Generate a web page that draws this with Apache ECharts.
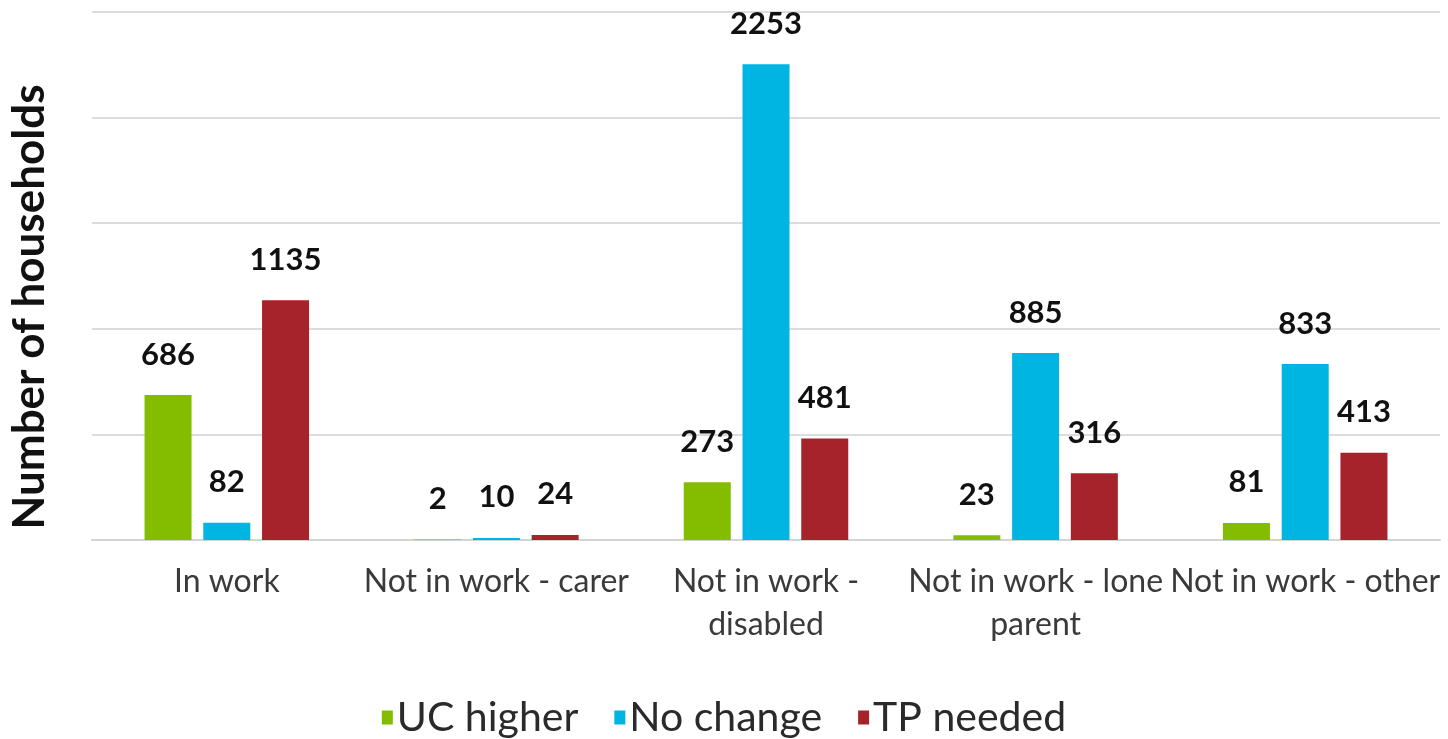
<!DOCTYPE html>
<html>
<head>
<meta charset="utf-8">
<script src="https://cdn.jsdelivr.net/npm/echarts@6/dist/echarts.min.js"></script>
<style>
  html, body { margin: 0; padding: 0; background: #fff; }
  #chart { width: 1448px; height: 739px; }
</style>
</head>
<body>
<div id="chart"></div>
<script>
// categories (line breaks as in the original labels)
var categories = ['In work', 'Not in work - carer', 'Not in work -\ndisabled', 'Not in work - lone\nparent', 'Not in work - other']
var ucHigher = [686, 2, 273, 23, 81]
var noChange = [82, 10, 2253, 885, 833]
var tpNeeded = [1135, 24, 481, 316, 413]

var labelStyle = {
  show: true,
  position: 'top',
  distance: 25,
  color: '#111',
  fontSize: 31,
  fontWeight: 'bold',
  fontFamily: 'Lato'
}

var chart = echarts.init(document.getElementById('chart'))
chart.setOption({
  animation: false,
  color: ['#84bd00', '#00b5e2', '#a6232b'],
  grid: { left: 90, right: 8, top: 12, bottom: 199 },
  legend: {
    bottom: -4,
    left: 'center',
    itemWidth: 11,
    itemHeight: 14,
    itemGap: 36,
    icon: 'rect',
    textStyle: { fontSize: 41, color: '#2a2a2a', fontFamily: 'Lato', padding: [0, 0, 0, -1] },
    data: ['UC higher', 'No change', 'TP needed']
  },
  xAxis: {
    type: 'category',
    data: categories,
    axisTick: { show: false },
    axisLine: { lineStyle: { color: '#d4d4d4', width: 2 } },
    axisLabel: {
      interval: 0,
      margin: 20,
      fontSize: 32,
      lineHeight: 43,
      color: '#3a3a3a',
      fontFamily: 'Lato'
    }
  },
  yAxis: {
    type: 'value',
    min: 0,
    max: 2500,
    interval: 500,
    name: 'Number of households',
    nameLocation: 'middle',
    nameGap: 40,
    nameTextStyle: { fontSize: 44, fontWeight: 'bold', color: '#111', fontFamily: 'Lato', padding: [0, 62, 0, 0] },
    axisLabel: { show: false },
    axisLine: { show: false },
    axisTick: { show: false },
    splitLine: { lineStyle: { color: '#dcdcdc', width: 2 } }
  },
  series: [
    { name: 'UC higher', type: 'bar', data: ucHigher, barWidth: 47, barGap: '25%', label: labelStyle },
    { name: 'No change', type: 'bar', data: noChange, barWidth: 47, barGap: '25%', label: labelStyle },
    { name: 'TP needed', type: 'bar', data: tpNeeded, barWidth: 47, barGap: '25%', label: labelStyle }
  ]
})
</script>
</body>
</html>
